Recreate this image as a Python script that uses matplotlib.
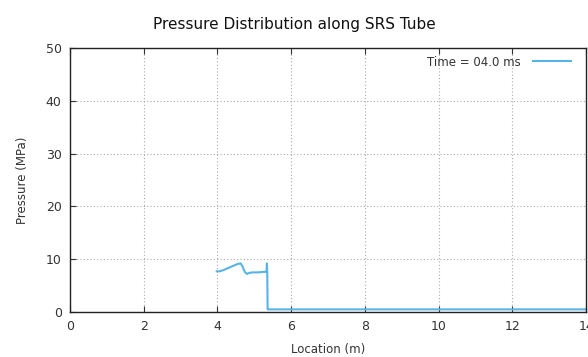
import matplotlib
matplotlib.use("Agg")
import matplotlib.pyplot as plt

# 管内の位置 (m) と圧力 (MPa)
location = [3.98, 4.05, 4.15, 4.25, 4.35, 4.45, 4.55, 4.63, 4.68, 4.74, 4.80, 4.86, 4.95,
            5.10, 5.25, 5.33, 5.34, 5.35, 5.36, 5.37, 5.40, 6.0, 8.0, 10.0, 12.0, 14.0]
pressure = [7.7, 7.7, 7.9, 8.2, 8.5, 8.8, 9.1, 9.2, 8.6, 7.6, 7.2, 7.4, 7.5,
            7.5, 7.6, 7.6, 9.2, 7.5, 0.5, 0.5, 0.5, 0.5, 0.5, 0.5, 0.5, 0.5]

x_ticks = [0, 2, 4, 6, 8, 10, 12, 14]
y_ticks = [0, 10, 20, 30, 40, 50]
LINE_COLOR = "#56b4e9"
TEXT_COLOR = "#333333"

fig = plt.figure(figsize=(5.88, 3.57), dpi=100)
ax = fig.add_axes([0.119, 0.126, 0.878, 0.740])

ax.plot(location, pressure, color=LINE_COLOR, linewidth=1.5, label="Time = 04.0 ms")

ax.set_xlim(0, 14)
ax.set_ylim(0, 50)
ax.set_xticks(x_ticks)
ax.set_yticks(y_ticks)
ax.tick_params(direction="in", length=4, width=0.8, top=True, right=False,
               labelsize=9, colors=TEXT_COLOR, pad=6)
for s in ax.spines.values():
    s.set_linewidth(1.0)
    s.set_color("#222222")
ax.grid(True, linestyle=(0, (1, 2)), color="#aaaaaa", linewidth=0.8)

ax.set_xlabel("Location (m)", fontsize=8.5, color=TEXT_COLOR, labelpad=7)
ax.set_ylabel("Pressure (MPa)", fontsize=8.5, color=TEXT_COLOR, labelpad=12)
fig.text(0.5, 0.93, "Pressure Distribution along SRS Tube", ha="center", va="center",
         fontsize=11, color="#111111")

leg = ax.legend(loc="upper right", frameon=False, fontsize=8.5, markerfirst=False,
                handlelength=3.2, borderaxespad=0.25, handletextpad=1.0,
                borderpad=0.4, bbox_to_anchor=(0.985, 1.0))
for t in leg.get_texts():
    t.set_color(TEXT_COLOR)

fig.savefig("out.png", dpi=100)
